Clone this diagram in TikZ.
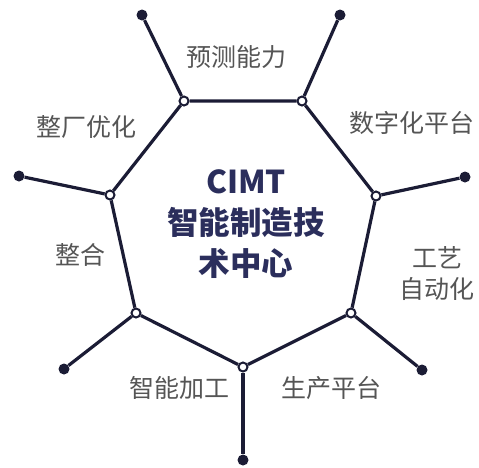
\documentclass[tikz,border=0pt]{standalone}
\usepackage{fontspec}
\setmainfont{Noto Sans CJK SC}
\definecolor{navy}{HTML}{1B1C35}
\definecolor{titleblue}{HTML}{2B2E5C}
\definecolor{labelgray}{HTML}{555555}

\begin{document}
\begin{tikzpicture}[x=1pt,y=-1pt,
  hub/.style={circle,draw=navy,fill=white,line width=2pt,inner sep=0pt,minimum size=9pt},
  tip/.style={circle,fill=navy,inner sep=0pt,minimum size=11pt},
  rim/.style={draw=navy,line width=3.2pt},
  lab/.style={text=labelgray,font=\fontsize{25}{31}\selectfont,align=center}]
\useasboundingbox (0,0) rectangle (479,467);
% corners of the ring
\node[hub] (v1) at (184,101) {};
\node[hub] (v2) at (302,101) {};
\node[hub] (v3) at (376,196) {};
\node[hub] (v4) at (351,313) {};
\node[hub] (v5) at (243,367) {};
\node[hub] (v6) at (136,313) {};
\node[hub] (v7) at (110,195) {};
% outer dots
\node[tip] (t1) at (142,15) {};
\node[tip] (t2) at (340,15) {};
\node[tip] (t3) at (465,177) {};
\node[tip] (t4) at (422,370) {};
\node[tip] (t5) at (243,460) {};
\node[tip] (t6) at (64,369) {};
\node[tip] (t7) at (19,176) {};
\draw[rim] (v1) -- (v2) -- (v3) -- (v4) -- (v5) -- (v6) -- (v7) -- (v1);
\draw[rim] (v1) -- (t1);
\draw[rim] (v2) -- (t2);
\draw[rim] (v3) -- (t3);
\draw[rim] (v4) -- (t4);
\draw[rim] (v5) -- (t5);
\draw[rim] (v6) -- (t6);
\draw[rim] (v7) -- (t7);
% labels
\node[lab] (l1) at (236,57) {预测能力};
\node[lab] (l2) at (412,123) {数字化平台};
\node[lab] (l3) at (437,274) {工艺\\自动化};
\node[lab] (l4) at (331,388) {生产平台};
\node[lab] (l5) at (179,388) {智能加工};
\node[lab] (l6) at (80,255) {整合};
\node[lab] (l7) at (86,127) {整厂优化};
\node[text=titleblue,font=\bfseries\fontsize{31.5}{41}\selectfont,align=center] (hub) at (246,224) {CIMT\\智能制造技\\术中心};
\end{tikzpicture}
\end{document}
